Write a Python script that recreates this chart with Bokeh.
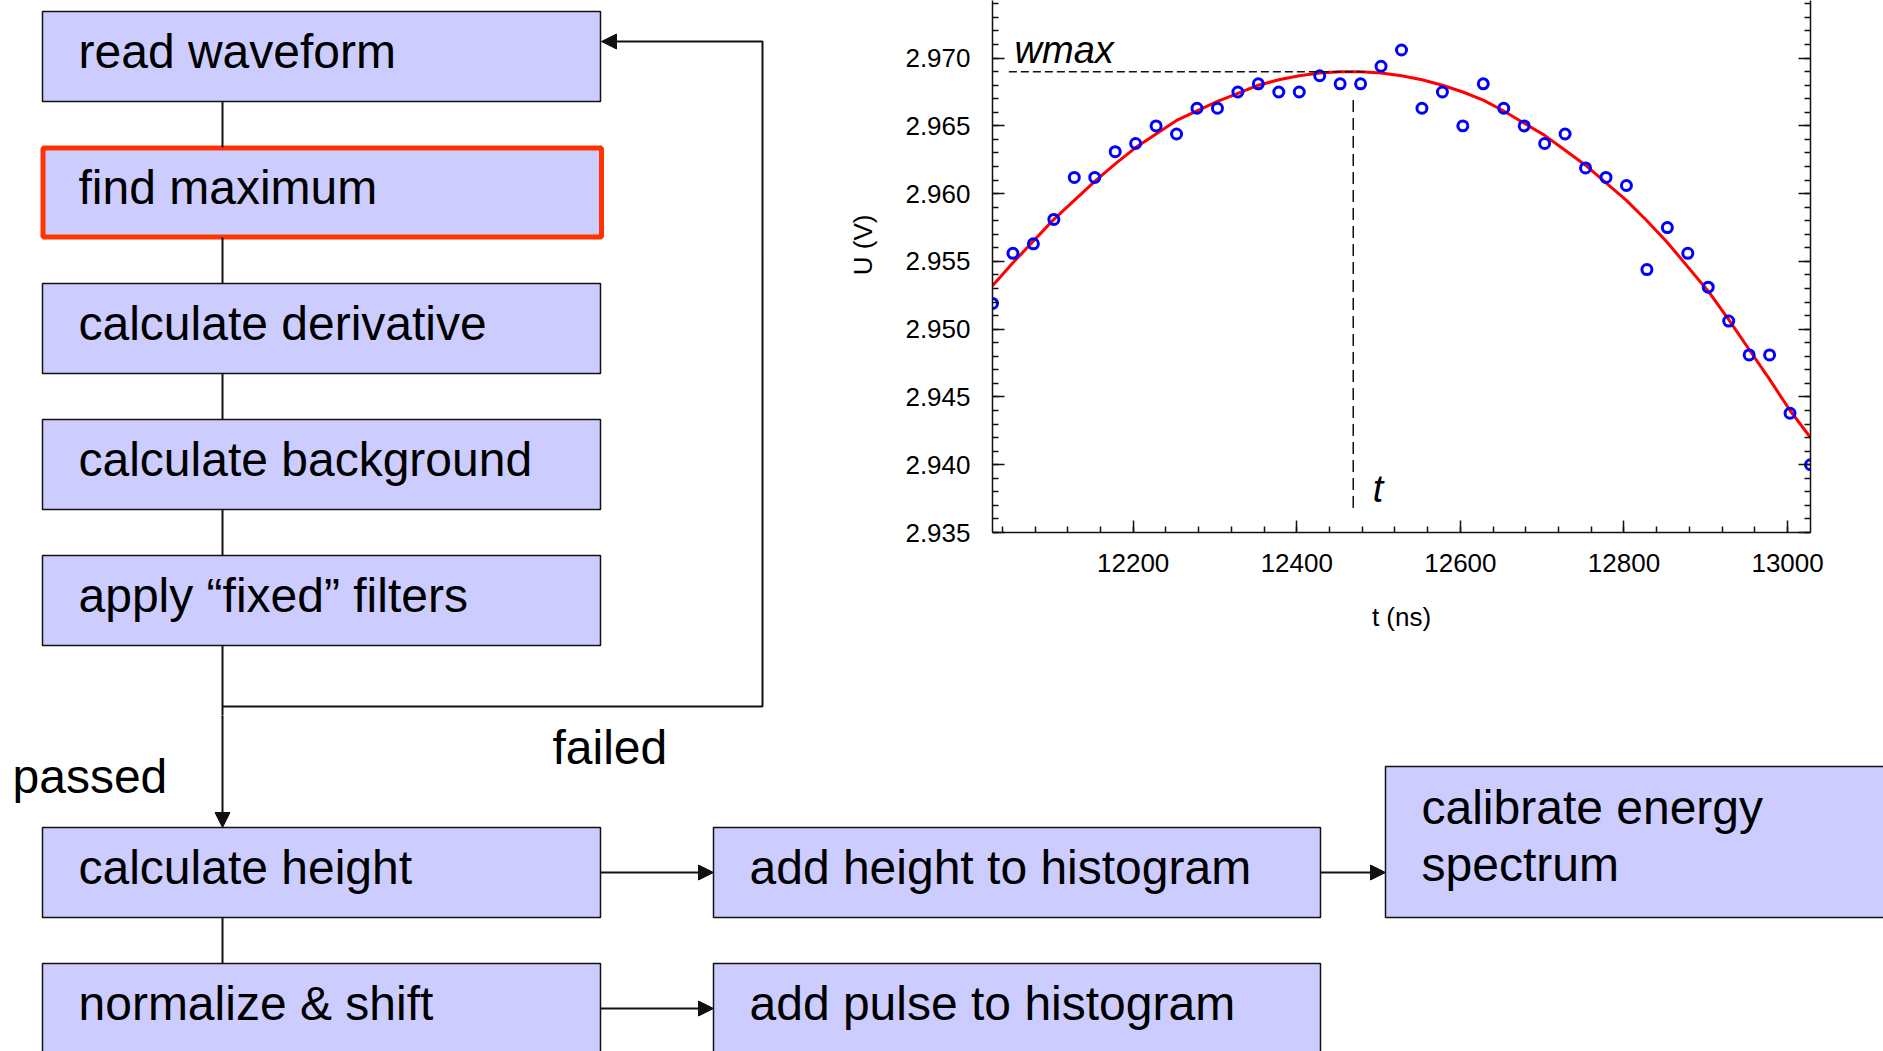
from bokeh.plotting import figure
from bokeh.layouts import column, row
from bokeh.models import (Range1d, LinearAxis, FixedTicker, NumeralTickFormatter,
                          CustomJSTickFormatter, Arrow, NormalHead)
from bokeh.core.properties import value
from bokeh.embed import file_html
from bokeh.resources import INLINE
import numpy as np

FONT = "Liberation Sans"

# ---------------- waveform samples around the pulse maximum ----------------
t_ns = [12028, 12053, 12078, 12103, 12128, 12153, 12178, 12203, 12228, 12253,
        12278, 12303, 12328, 12353, 12378, 12403, 12428, 12453, 12478, 12503,
        12528, 12553, 12578, 12603, 12628, 12653, 12678, 12703, 12728, 12753,
        12778, 12803, 12828, 12853, 12878, 12903, 12928, 12953, 12978, 13003,
        13028]
u_volts = [2.9519, 2.9556, 2.9563, 2.9581, 2.9612, 2.9612, 2.9631, 2.9637, 2.9650, 2.9644,
           2.9663, 2.9663, 2.9675, 2.9681, 2.9675, 2.9675, 2.9687, 2.9681, 2.9681, 2.9694,
           2.9706, 2.9663, 2.9675, 2.9650, 2.9681, 2.9663, 2.9650, 2.9637, 2.9644, 2.9619,
           2.9612, 2.9606, 2.9544, 2.9575, 2.9556, 2.9531, 2.9506, 2.9481, 2.9481, 2.9438,
           2.9400]

# fitted curve, evaluated at the sample times
fit_u_volts = [2.9532, 2.9549, 2.9565, 2.9581, 2.9595, 2.9609, 2.9622, 2.9634, 2.9644, 2.9654,
               2.9661, 2.9668, 2.9674, 2.9680, 2.9684, 2.9687, 2.9689, 2.9690, 2.9690, 2.9689,
               2.9687, 2.9684, 2.9680, 2.9675, 2.9669, 2.9661, 2.9652, 2.9643, 2.9632, 2.9621,
               2.9608, 2.9595, 2.9580, 2.9564, 2.9546, 2.9528, 2.9507, 2.9485, 2.9463, 2.9440,
               2.9420]

# maximum of the fit and its time
w_max = 2.9690
t_max = 12469

x_major_ticks = [12200, 12400, 12600, 12800, 13000]
y_major_ticks = [2.935, 2.940, 2.945, 2.950, 2.955, 2.960, 2.965, 2.970, 2.975]

# ---------------- processing steps ----------------
chain_steps = ["read waveform", "find maximum", "calculate derivative",
               "calculate background", "apply \u201cfixed\u201d filters"]
output_steps = ["calculate height", "normalize & shift"]
histogram_steps = ["add height to histogram", "add pulse to histogram"]
final_step_lines = ["calibrate energy", "spectrum"]
branch_labels = ["passed", "failed"]
highlighted_step = "find maximum"

# ---------------- page geometry (pixels, y downwards) ----------------
W, H = 1883, 1051
SPLIT_X, SPLIT_Y = 820, 715
BOX_L, BOX_R, BOX_H = 42, 600, 90
ROW0, ROW_STEP = 11, 136
COL2_L, COL2_R = 713, 1320
COL3_L, COL3_R, COL3_TOP = 1385, 1940, 766
SPINE_X = 222
LOOP_X, LOOP_Y, LOOP_TOP = 762, 706, 41
PAD = 36
BASE = 40                 # text baseline below the box top (48px text)
INK = "#111111"
BOX_FILL = "#CCCCFF"
TEXT_SIZE = value("48px")

chain_tops = [ROW0 + k * ROW_STEP for k in range(len(chain_steps))]
out_tops = [ROW0 + (k + 6) * ROW_STEP for k in range(len(output_steps))]
row_h_mid = [t + BOX_H / 2 for t in out_tops]


def draw_flow(p, y_lo, y_hi):
    # boxes
    lefts, rights, tops, bottoms = [], [], [], []
    for t in chain_tops + out_tops:
        lefts.append(BOX_L); rights.append(BOX_R); tops.append(t); bottoms.append(t + BOX_H)
    for t in out_tops:
        lefts.append(COL2_L); rights.append(COL2_R); tops.append(t); bottoms.append(t + BOX_H)
    lefts.append(COL3_L); rights.append(COL3_R); tops.append(COL3_TOP); bottoms.append(out_tops[0] + BOX_H)
    p.quad(left=lefts, right=rights, top=tops, bottom=bottoms,
           fill_color=BOX_FILL, line_color=INK, line_width=1.5)

    hi = chain_steps.index(highlighted_step)
    p.quad(left=[BOX_L + 0.5], right=[BOX_R + 1], top=[chain_tops[hi] + 0.5],
           bottom=[chain_tops[hi] + BOX_H - 0.5],
           fill_color=None, line_color="#FF3300", line_width=5)

    # connectors along the main column
    xs, ys = [], []
    for a, b in zip(chain_tops[:-1], chain_tops[1:]):
        xs.append([SPINE_X, SPINE_X]); ys.append([a + BOX_H, b])
    xs.append([SPINE_X, SPINE_X]); ys.append([chain_tops[-1] + BOX_H, SPLIT_Y + 1])
    xs.append([SPINE_X, SPINE_X]); ys.append([out_tops[0] + BOX_H, out_tops[1]])
    # feedback loop for rejected pulses
    xs.append([SPINE_X, LOOP_X, LOOP_X, BOX_R + 10]); ys.append([LOOP_Y, LOOP_Y, LOOP_TOP, LOOP_TOP])
    p.multi_line(xs=xs, ys=ys, line_color=INK, line_width=2)

    # step labels (only those that fall inside this panel)
    tx, ty, tt = [], [], []
    for t, s in zip(chain_tops, chain_steps):
        tx.append(BOX_L + PAD); ty.append(t + BASE); tt.append(s)
    for t, s in zip(out_tops, output_steps):
        tx.append(BOX_L + PAD); ty.append(t + BASE); tt.append(s)
    for t, s in zip(out_tops, histogram_steps):
        tx.append(COL2_L + PAD); ty.append(t + BASE); tt.append(s)
    for i, s in enumerate(final_step_lines):
        tx.append(COL3_L + PAD); ty.append(COL3_TOP + 41 + 57 * i); tt.append(s)
    tx += [12, 552]; ty += [776, 747]; tt += branch_labels
    keep = [i for i, y in enumerate(ty) if y_lo + 30 < y < y_hi - 5]
    p.text(x=[tx[i] for i in keep], y=[ty[i] for i in keep], text=[tt[i] for i in keep],
           text_font=value(FONT), text_font_size=TEXT_SIZE,
           text_color="black", text_align="left", text_baseline="alphabetic")


def arrow(x0, y0, x1, y1):
    return Arrow(end=NormalHead(size=15, fill_color=INK, line_color=INK, line_width=1),
                 x_start=x0, y_start=y0, x_end=x1, y_end=y1,
                 line_color=INK, line_width=2)


def flow_figure(w, h, x0, x1, y0, y1):
    f = figure(width=w, height=h, x_range=Range1d(x0, x1), y_range=Range1d(y1, y0),
               output_backend="svg", toolbar_location=None,
               x_axis_location=None, y_axis_location=None,
               min_border=0, outline_line_color=None, frame_align=False,
               background_fill_color="white", border_fill_color="white")
    f.xgrid.visible = False
    f.ygrid.visible = False
    return f


top_flow = flow_figure(SPLIT_X, SPLIT_Y, 0, SPLIT_X, 0, SPLIT_Y)
draw_flow(top_flow, 0, SPLIT_Y)
top_flow.add_layout(arrow(BOX_R + 12, LOOP_TOP, BOX_R + 1, LOOP_TOP))

bottom_flow = flow_figure(W, H - SPLIT_Y, 0, W, SPLIT_Y, H)
draw_flow(bottom_flow, SPLIT_Y, H + 40)
bottom_flow.add_layout(arrow(SPINE_X, SPLIT_Y, SPINE_X, out_tops[0]))
bottom_flow.add_layout(arrow(BOX_R, row_h_mid[0], COL2_L, row_h_mid[0]))
bottom_flow.add_layout(arrow(COL2_R, row_h_mid[0], COL3_L, row_h_mid[0]))
bottom_flow.add_layout(arrow(BOX_R, row_h_mid[1], COL2_L, row_h_mid[1]))

# ---------------- waveform near the maximum ----------------
p = figure(width=W - SPLIT_X, height=SPLIT_Y,
           x_range=Range1d(12028, 13028), y_range=Range1d(2.935, 2.97425),
           output_backend="svg", toolbar_location=None, frame_align=False,
           min_border_left=172, min_border_right=73, min_border_top=0, min_border_bottom=183,
           outline_line_color=None, background_fill_color="white", border_fill_color="white")
p.xgrid.visible = False
p.ygrid.visible = False

x_ticker = FixedTicker(ticks=x_major_ticks, minor_ticks=list(range(12040, 13028, 40)))
y_ticker = FixedTicker(ticks=y_major_ticks,
                       minor_ticks=[round(v, 3) for v in np.arange(2.935, 2.9755, 0.001)])
p.xaxis.ticker = x_ticker
p.yaxis.ticker = y_ticker
p.yaxis.formatter = NumeralTickFormatter(format="0.000")
p.xaxis.axis_label = "t (ns)"
# non-breaking padding lifts the label a little above the frame centre
p.yaxis.axis_label = "\u00a0" * 6 + "U (V)"

right_axis = LinearAxis(ticker=y_ticker, formatter=CustomJSTickFormatter(code="return ''"))
p.add_layout(right_axis, "right")

for ax in p.axis:
    ax.axis_line_color = INK
    ax.axis_line_width = 1.5
    ax.major_tick_in = 12
    ax.major_tick_out = 0
    ax.minor_tick_in = 6
    ax.minor_tick_out = 0
    ax.major_tick_line_color = INK
    ax.minor_tick_line_color = INK
    ax.major_tick_line_width = 1.5
    ax.minor_tick_line_width = 1.5
    ax.major_label_text_font = FONT
    ax.major_label_text_font_size = "26px"
    ax.major_label_text_color = "black"
    ax.axis_label_text_font = FONT
    ax.axis_label_text_font_size = "26px"
    ax.axis_label_text_font_style = "normal"
    ax.axis_label_text_color = "black"

p.xaxis.major_label_standoff = 21
p.xaxis.axis_label_standoff = 27
p.yaxis.major_label_standoff = 22
p.yaxis.axis_label_standoff = 24

p.line(t_ns, fit_u_volts, line_color="#FF0000", line_width=3)
p.scatter(t_ns, u_volts, marker="circle", size=10, fill_color=None,
          line_color="#0000FF", line_width=3)

# markers for the fitted maximum
p.line([12048, 12486], [w_max, w_max], line_color=INK, line_width=1.5, line_dash="8 4")
p.line([t_max, t_max], [2.9669, 2.9368], line_color=INK, line_width=1.5, line_dash="12 6")
p.text(x=[12055, 12493], y=[2.9706, 2.9382], text=["wmax", "t"],
       text_font=value(FONT), text_font_size=value("38px"), text_font_style="italic",
       text_color="black", text_align="left", text_baseline="alphabetic")

layout = column(row(top_flow, p), bottom_flow)
open("out.html", "w").write(file_html(layout, INLINE))
